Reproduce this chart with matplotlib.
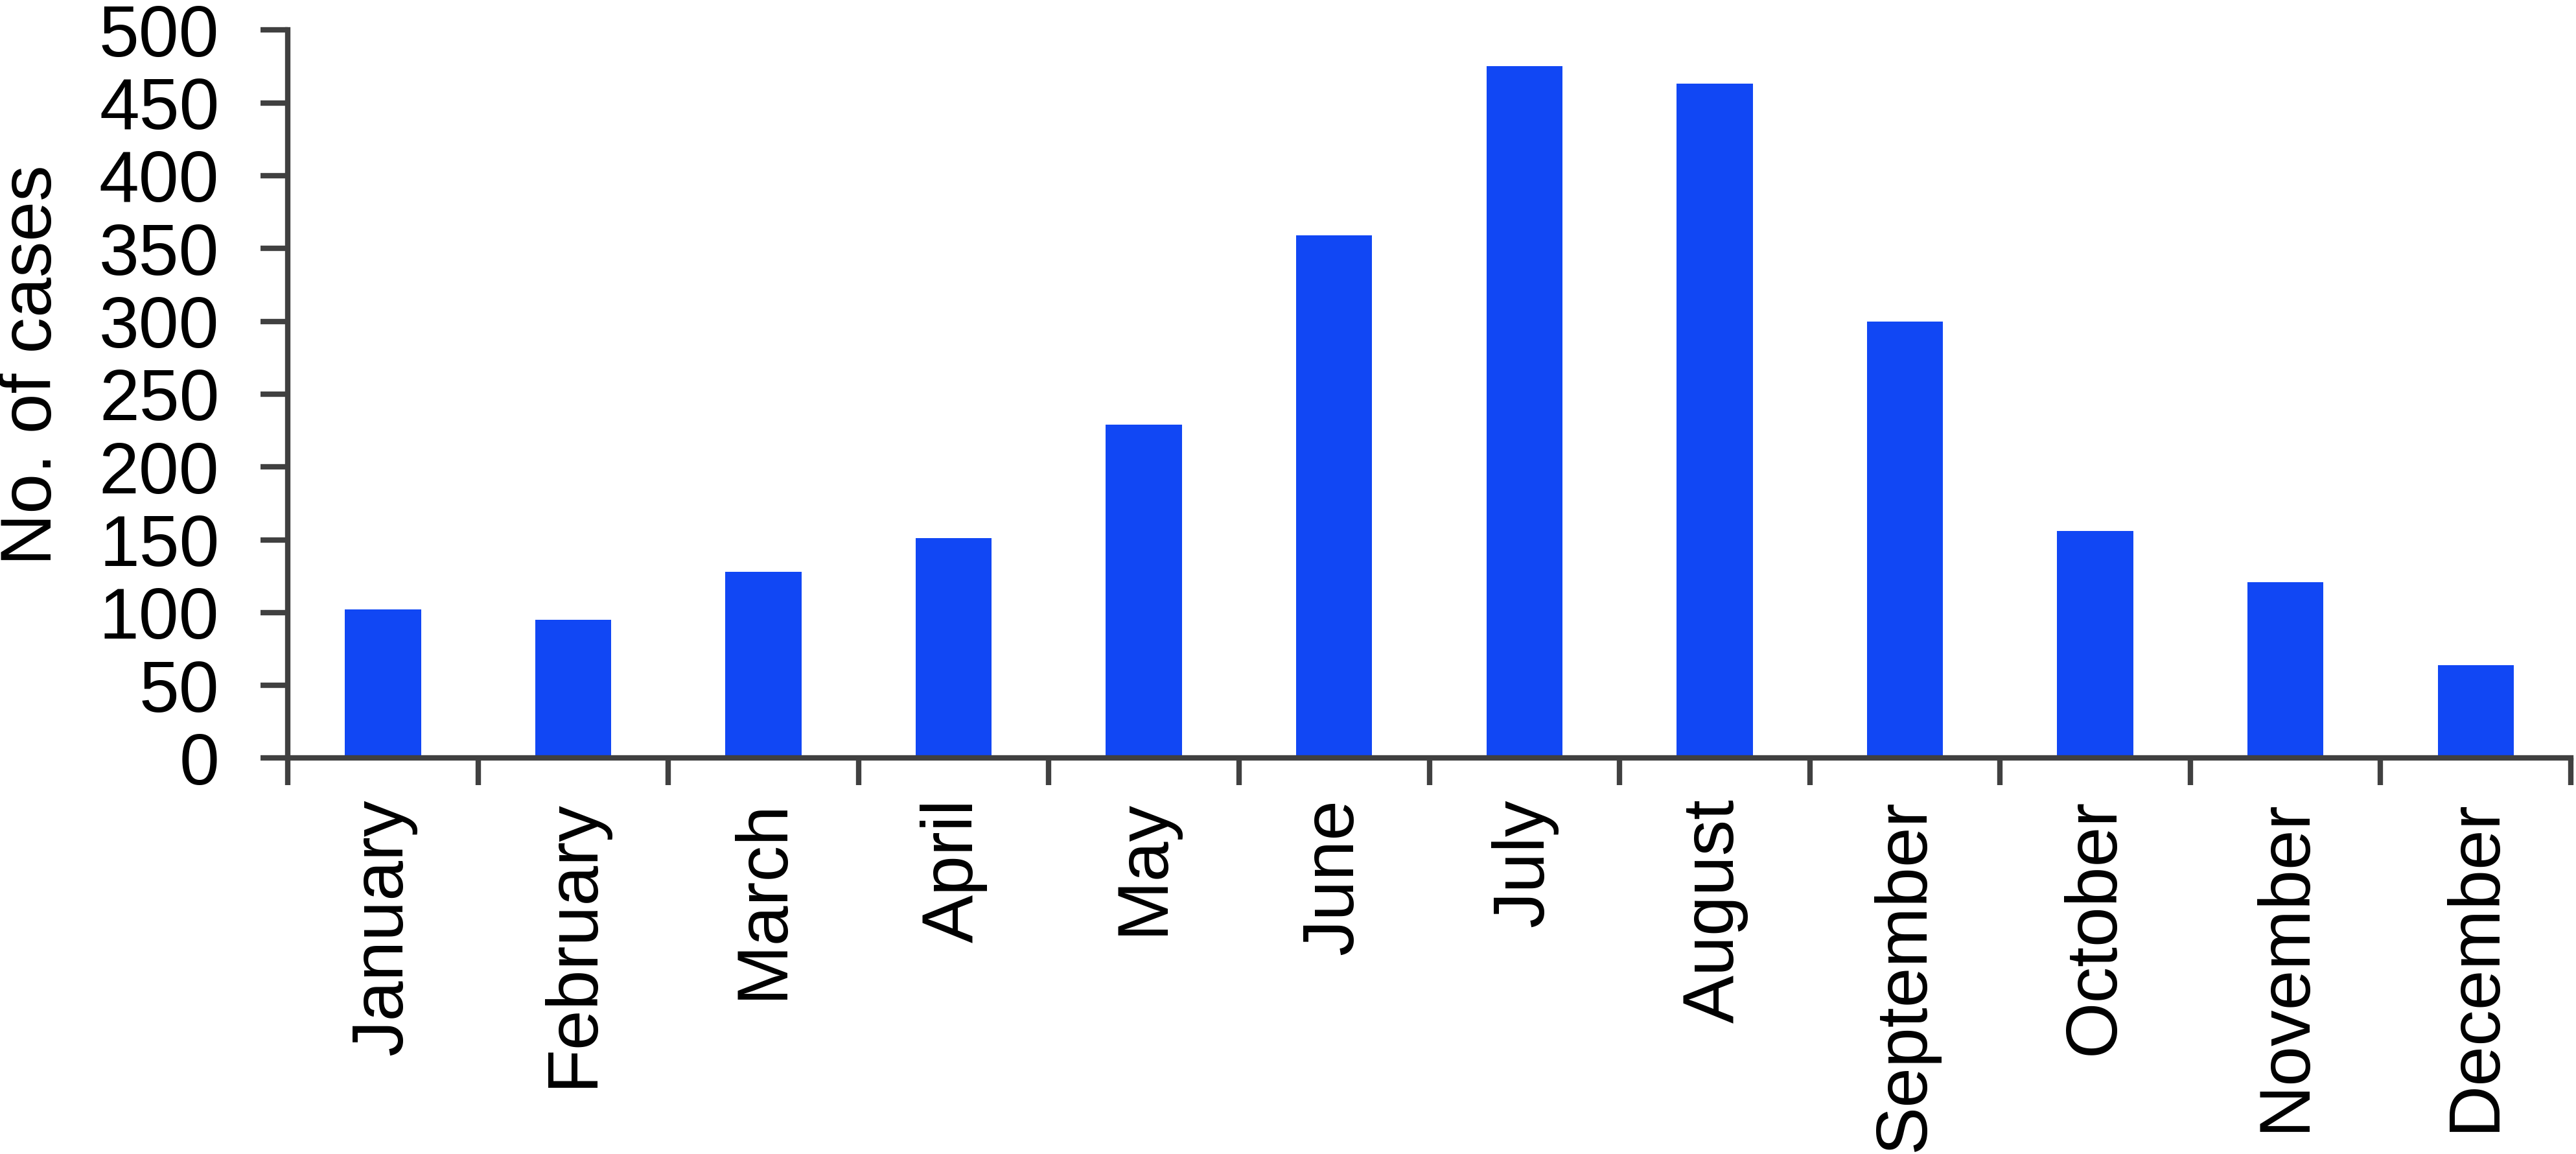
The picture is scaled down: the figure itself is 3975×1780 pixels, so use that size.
import matplotlib
matplotlib.use("Agg")
import matplotlib.pyplot as plt

plt.rcParams['font.family'] = ['Liberation Sans', 'DejaVu Sans']

months = ["January", "February", "March", "April", "May", "June",
          "July", "August", "September", "October", "November", "December"]
cases = [102, 95, 128, 151, 229, 359, 475, 463, 300, 156, 121, 64]
yticks = [0, 50, 100, 150, 200, 250, 300, 350, 400, 450, 500]

bar_color = "#1147F4"
axis_color = "#404040"

fig = plt.figure(figsize=(39.75, 17.8), dpi=100)
ax = fig.add_axes([0.1117, 0.343, 0.8863, 0.631])

x = list(range(len(months)))
ax.bar(x, cases, width=0.4, color=bar_color)

ax.set_xlim(-0.5, len(months) - 0.5)
ax.set_ylim(0, 500)
ax.set_yticks(yticks)
ax.set_yticklabels([str(v) for v in yticks])

ax.set_xticks(x)
ax.set_xticklabels(months, rotation=90, fontsize=80)
ax.set_xticks([i - 0.5 for i in range(len(months) + 1)], minor=True)
ax.tick_params(axis="x", which="major", length=0, pad=45)
ax.tick_params(axis="x", which="minor", length=30, width=6, color=axis_color,
               direction="out")
ax.tick_params(axis="y", length=30, width=6, color=axis_color, labelsize=80,
               pad=46)

for s in ["top", "right"]:
    ax.spines[s].set_visible(False)
for s in ["left", "bottom"]:
    ax.spines[s].set_color(axis_color)
    ax.spines[s].set_linewidth(6)

ax.set_ylabel("No. of cases", fontsize=80)
ax.yaxis.set_label_coords(-0.097, 0.54)

fig.savefig("out.png", dpi=100)
